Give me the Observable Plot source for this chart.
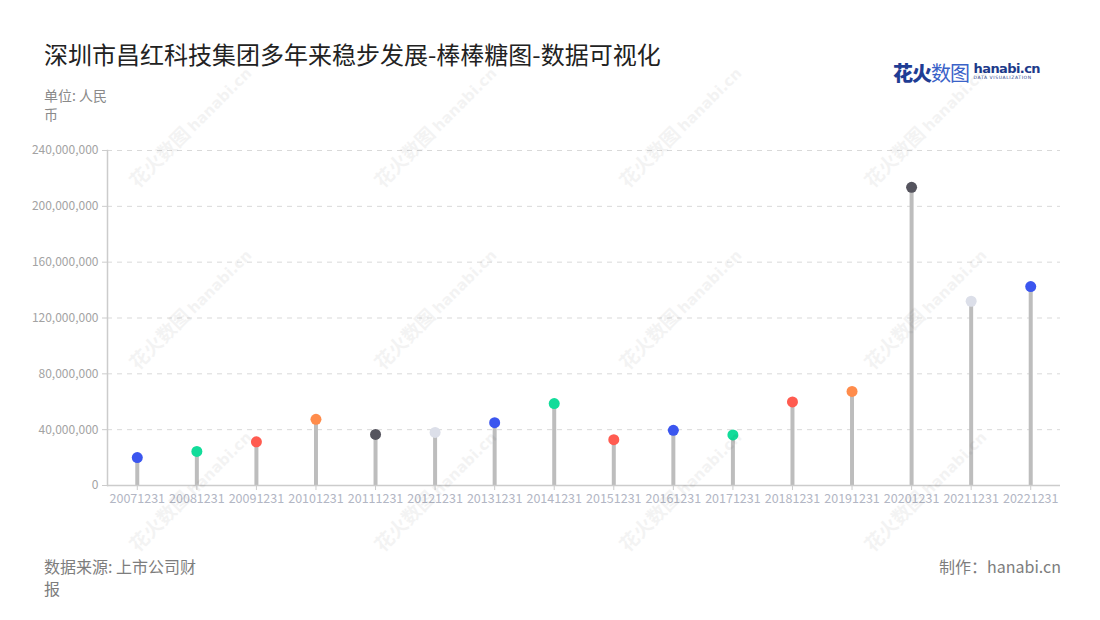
<!DOCTYPE html>
<html>
<head>
<meta charset="utf-8">
<script src="https://cdn.jsdelivr.net/npm/d3@7"></script>
<script src="https://cdn.jsdelivr.net/npm/@observablehq/plot@0.6"></script>
<style>
  html, body { margin: 0; padding: 0; background: #fff; }
  body { font-family: "Noto Sans CJK SC", "Noto Sans", sans-serif; }
  #wrap { position: relative; width: 1100px; height: 620px; overflow: hidden; background: #fff; }
  .abs { position: absolute; white-space: nowrap; }
  #title { left: 44px; top: 37px; font-size: 24px; color: #222; line-height: 34px; }
  #unit { left: 44px; top: 86px; font-size: 14px; color: #8a8a8a; line-height: 19px; white-space: normal; width: 72px; }
  #source { left: 44px; top: 555px; font-size: 16px; color: #7d7d7d; line-height: 22px; white-space: normal; width: 160px; }
  #credit { right: 39px; top: 555px; font-size: 16px; color: #7d7d7d; line-height: 22px; }
  #chart { position: absolute; left: 0; top: 130px; }
  #logo { left: 893px; top: 58px; height: 26px; }
  .wm { position: absolute; transform: rotate(-45deg); transform-origin: center; color: #000; opacity: 0.045; white-space: nowrap; pointer-events: none; font-weight: bold; }
</style>
</head>
<body>
<div id="wrap">
  <div id="title" class="abs">深圳市昌红科技集团多年来稳步发展-棒棒糖图-数据可视化</div>
  <div id="unit" class="abs">单位: 人民币</div>
  <div id="logo" class="abs">
    <span style="font-size:20px;font-weight:900;color:#1f3d94;letter-spacing:-1px;">花火</span><span style="font-size:20px;color:#3a62c8;letter-spacing:-1px;">数图</span>
    <span style="display:inline-block;vertical-align:top;margin-left:1px;line-height:1;">
      <span style="font-family:'DejaVu Sans',sans-serif;font-size:13px;font-weight:bold;color:#1d3a8a;letter-spacing:-0.6px;display:block;margin-top:4px;">hanabi.cn</span>
      <span style="font-family:'DejaVu Sans',sans-serif;font-size:4.5px;color:#1d3a8a;letter-spacing:0.6px;display:block;margin-top:1px;">DATA VISUALIZATION</span>
    </span>
  </div>
  <div id="chart"></div>
  <div id="source" class="abs">数据来源: 上市公司财报</div>
  <div id="credit" class="abs">制作：hanabi.cn</div>
</div>
<script>
// ---- data ----
const years = ["20071231","20081231","20091231","20101231","20111231","20121231","20131231","20141231",
               "20151231","20161231","20171231","20181231","20191231","20201231","20211231","20221231"];
const values = [20000000, 24400000, 31300000, 47400000, 36600000, 38000000, 45000000, 58700000,
                32800000, 39500000, 36200000, 59900000, 67400000, 213600000, 132000000, 142500000];
const dotColors = ["#3b56ef","#12dc9a","#ff5b50","#ff8c4b","#55545e","#dcdfe9","#3b56ef","#12dc9a",
                   "#ff5b50","#3b56ef","#12dc9a","#ff5b50","#ff8c4b","#55545e","#dcdfe9","#3b56ef"];
const yTicks = [0, 40000000, 80000000, 120000000, 160000000, 200000000, 240000000];

const data = years.map((y, i) => ({year: y, value: values[i]}));
const fmt = d3.format(",");

const chart = Plot.plot({
  width: 1100,
  height: 400,
  marginLeft: 107,
  marginRight: 40,
  marginTop: 20,
  marginBottom: 45,
  style: {fontFamily: "'Noto Sans CJK SC', 'Noto Sans', sans-serif", background: "transparent", overflow: "visible"},
  x: {type: "band", domain: years, padding: 0, round: false, label: null},
  y: {domain: [0, 240000000], label: null},
  color: {type: "ordinal", domain: years, range: dotColors},
  marks: [
    Plot.gridY(yTicks.filter(d => d > 0), {stroke: "#d9d9d9", strokeOpacity: 1, strokeDasharray: "5,5", strokeWidth: 1}),
    Plot.ruleX(data, {x: "year", y1: 0, y2: "value", stroke: "#bdbdbd", strokeWidth: 4}),
    Plot.dot(data, {x: "year", y: "value", fill: "year", r: 5.5, stroke: "none"}),
    Plot.ruleY([0], {stroke: "#cccccc", strokeWidth: 1.5}),
    Plot.frame({anchor: "left", stroke: "#cccccc", strokeWidth: 1.5}),
    Plot.axisY({ticks: yTicks, tickFormat: fmt, tickSize: 5, tickPadding: 4, stroke: "#cccccc", fill: "#a3a3a3", fontSize: 12, label: null}),
    Plot.axisX({tickSize: 5, tickPadding: 4, stroke: "#cccccc", fill: "#b2b6c4", fontSize: 12.5, label: null})
  ]
});
document.getElementById("chart").appendChild(chart);

// faint decorative watermarks
const wrap = document.getElementById("wrap");
const wmCols = [0, 1, 2, 3];
const wmRows = [0, 1, 2];
for (const c of wmCols) {
  for (const r of wmRows) {
    const el = document.createElement("div");
    el.className = "wm";
    el.innerHTML = '<span style="font-size:19px">花火数图</span> <span style="font-size:15px;font-family:DejaVu Sans,sans-serif">hanabi.cn</span>';
    el.style.left = (108 + c * 245) + "px";
    el.style.top = (112 + r * 182) + "px";
    wrap.appendChild(el);
  }
}
</script>
</body>
</html>
